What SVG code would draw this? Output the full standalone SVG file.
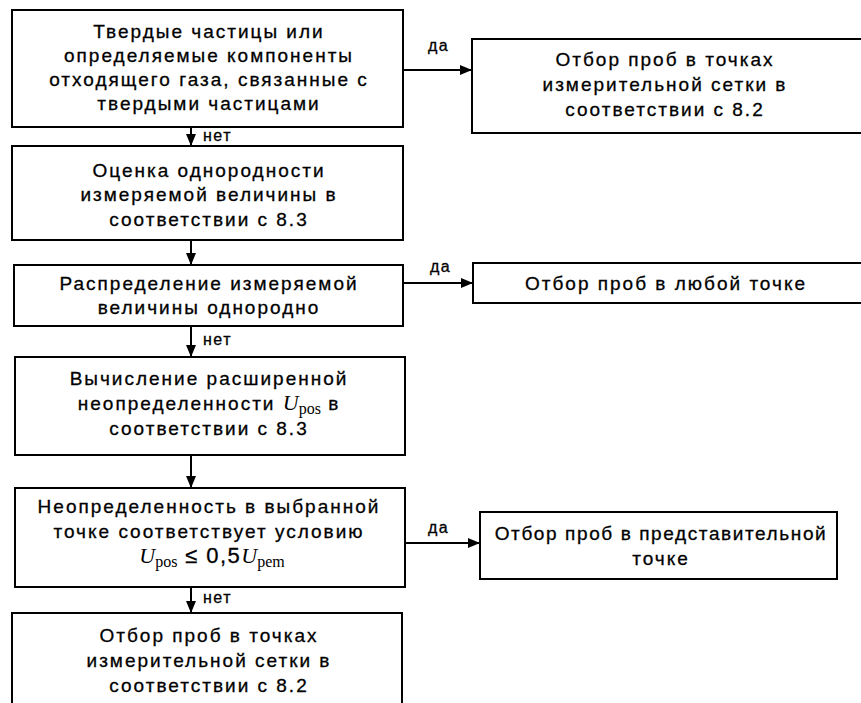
<svg xmlns="http://www.w3.org/2000/svg" width="861" height="703" viewBox="0 0 861 703">
<style>
  .box{fill:#fff;stroke:#000;stroke-width:2}
  .t{font-family:"Liberation Sans",Arial,sans-serif;font-size:19px;letter-spacing:2px;fill:#000;stroke:#000;stroke-width:0.3;text-anchor:middle}
  .lbl{font-family:"Liberation Sans",Arial,sans-serif;font-size:16px;letter-spacing:1.5px;fill:#000;stroke:#000;stroke-width:0.3}
  .m{font-family:"Liberation Serif","DejaVu Serif",serif;font-style:italic;font-size:22px;letter-spacing:0;stroke-width:0}
  .s{font-family:"Liberation Serif","DejaVu Serif",serif;font-size:16px;letter-spacing:0;stroke-width:0}
  .c{stroke:#000;stroke-width:2;fill:none}
</style>
<defs>
  <marker id="ah" markerWidth="12" markerHeight="10" refX="12" refY="5" orient="auto" markerUnits="userSpaceOnUse">
    <path d="M0,0 L12,5 L0,10 Z" fill="#000"/>
  </marker>
</defs>
<rect width="861" height="703" fill="#fff"/>
<g id="connectors">
  <line class="c" x1="191" y1="127" x2="191" y2="146" marker-end="url(#ah)"/>
  <line class="c" x1="191" y1="240" x2="191" y2="265" marker-end="url(#ah)"/>
  <line class="c" x1="191" y1="326" x2="191" y2="357" marker-end="url(#ah)"/>
  <line class="c" x1="191" y1="455" x2="191" y2="488" marker-end="url(#ah)"/>
  <line class="c" x1="191" y1="587" x2="191" y2="613" marker-end="url(#ah)"/>
  <line class="c" x1="403" y1="70" x2="472" y2="70" marker-end="url(#ah)"/>
  <line class="c" x1="403" y1="283" x2="473" y2="283" marker-end="url(#ah)"/>
  <line class="c" x1="405" y1="543" x2="480" y2="543" marker-end="url(#ah)"/>
  <text class="lbl" x="203" y="141">нет</text>
  <text class="lbl" x="203" y="345">нет</text>
  <text class="lbl" x="203" y="603">нет</text>
  <text class="lbl" x="428" y="51">да</text>
  <text class="lbl" x="430" y="272">да</text>
  <text class="lbl" x="428" y="533">да</text>
</g>
<g id="n1">
  <rect class="box" x="12" y="10" width="391" height="117"/>
  <text class="t" x="209" y="38">Твердые частицы или</text>
  <text class="t" x="209" y="62">определяемые компоненты</text>
  <text class="t" x="209" y="86">отходящего газа, связанные с</text>
  <text class="t" x="209" y="110">твердыми частицами</text>
</g>
<g id="n2">
  <rect class="box" x="12" y="146" width="391" height="94"/>
  <text class="t" x="209" y="177">Оценка однородности</text>
  <text class="t" x="209" y="201">измеряемой величины в</text>
  <text class="t" x="209" y="226">соответствии с 8.3</text>
</g>
<g id="n3">
  <rect class="box" x="14" y="265" width="389" height="61"/>
  <text class="t" x="209" y="290">Распределение измеряемой</text>
  <text class="t" x="209" y="314">величины однородно</text>
</g>
<g id="n4">
  <rect class="box" x="15" y="357" width="390" height="98"/>
  <text class="t" x="209" y="385">Вычисление расширенной</text>
  <text class="t" x="209" y="410">неопределенности <tspan class="m">U</tspan><tspan class="s" dy="4">pos</tspan><tspan dy="-4"> в</tspan></text>
  <text class="t" x="209" y="435">соответствии с 8.3</text>
</g>
<g id="n5">
  <rect class="box" x="15" y="488" width="390" height="99"/>
  <text class="t" x="209" y="513">Неопределенность в выбранной</text>
  <text class="t" x="209" y="538">точке соответствует условию</text>
  <text class="t" x="212" y="563"><tspan class="m">U</tspan><tspan class="s" dy="4">pos</tspan><tspan dy="-4" style="font-size:22px;letter-spacing:1.5px"> ≤ 0,5</tspan><tspan class="m">U</tspan><tspan class="s" dy="4">pem</tspan></text>
</g>
<g id="n6">
  <rect class="box" x="12" y="613" width="390" height="100"/>
  <text class="t" x="209" y="642">Отбор проб в точках</text>
  <text class="t" x="209" y="667">измерительной сетки в</text>
  <text class="t" x="209" y="692">соответствии с 8.2</text>
</g>
<g id="r1">
  <rect class="box" x="472" y="39" width="400" height="94"/>
  <text class="t" x="665" y="66">Отбор проб в точках</text>
  <text class="t" x="665" y="91">измерительной сетки в</text>
  <text class="t" x="665" y="116">соответствии с 8.2</text>
</g>
<g id="r2">
  <rect class="box" x="473" y="263" width="400" height="40"/>
  <text class="t" x="666" y="290">Отбор проб в любой точке</text>
</g>
<g id="r3">
  <rect class="box" x="480" y="512" width="357" height="67"/>
  <text class="t" x="661" y="540" style="letter-spacing:1.6px">Отбор проб в представительной</text>
  <text class="t" x="661" y="565">точке</text>
</g>
</svg>
